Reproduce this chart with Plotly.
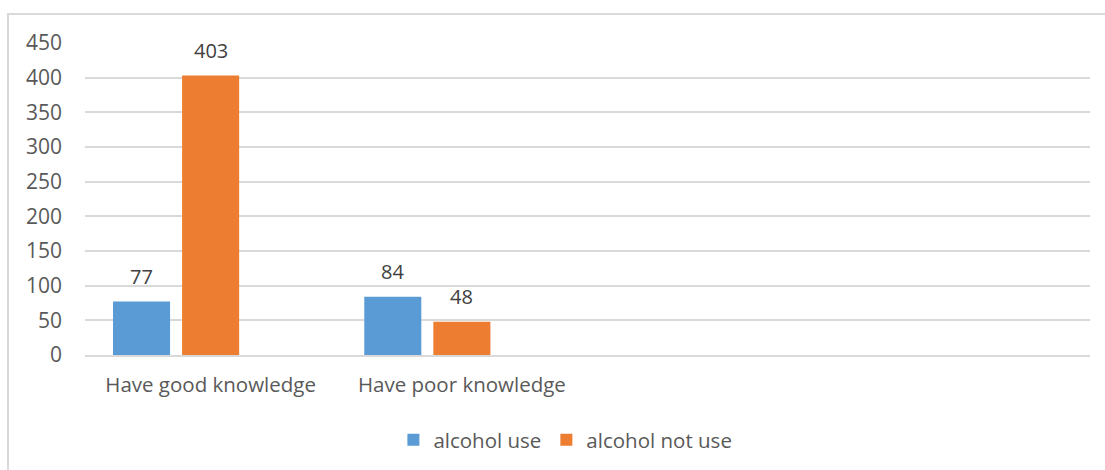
import plotly.graph_objects as go

categories = ["Have good knowledge", "Have poor knowledge"]
alcohol_use = [77, 84]
alcohol_not_use = [403, 48]
y_ticks = [0, 50, 100, 150, 200, 250, 300, 350, 400, 450]

FONT = "Open Sans"
fig = go.Figure()
fig.add_trace(go.Bar(
    x=categories, y=alcohol_use, name="alcohol use",
    marker=dict(color="#5B9BD5", line=dict(width=0)),
))
fig.add_trace(go.Bar(
    x=categories, y=alcohol_not_use, name="alcohol not use",
    marker=dict(color="#ED7D31", line=dict(width=0)),
))
# empty third series (as in the source workbook), keeps group layout
fig.add_trace(go.Bar(
    x=categories, y=[None, None], showlegend=False, hoverinfo="skip",
    marker=dict(color="rgba(0,0,0,0)"),
))

annotations = []
for series, shift in ((alcohol_use, -69), (alcohol_not_use, 0)):
    for cat, val in zip(categories, series):
        annotations.append(dict(
            x=cat, y=val, xref="x", yref="y", text=str(val), showarrow=False,
            xshift=shift, yshift=10, yanchor="bottom",
            font=dict(family=FONT, size=20, color="#404040")))

fig.update_layout(
    width=1105, height=470,
    margin=dict(l=85, r=15, t=43, b=115, autoexpand=False),
    paper_bgcolor="white", plot_bgcolor="white",
    barmode="group", bargap=0.175, bargroupgap=0.174,
    font=dict(family=FONT, size=20, color="#595959"),
    showlegend=True,
    annotations=annotations,
    legend=dict(orientation="h", x=0.478, xanchor="center", y=-0.208, yanchor="top",
                font=dict(family=FONT, size=20.5, color="#595959"),
                itemwidth=30, traceorder="normal"),
    xaxis=dict(type="category", range=[-0.5, 3.5], showgrid=False, automargin=False,
               showline=True, linecolor="#d9d9d9", linewidth=2,
               ticks="", ticklabelstandoff=10,
               tickfont=dict(family=FONT, size=20.5, color="#595959")),
    yaxis=dict(range=[0, 450], tickvals=y_ticks, showgrid=True, automargin=False,
               gridcolor="#d9d9d9", gridwidth=2, zeroline=False,
               showline=False, ticks="", ticklabelstandoff=22,
               tickfont=dict(family=FONT, size=21, color="#595959")),
    shapes=[dict(type="rect", xref="paper", yref="paper",
                 x0=(8 - 85) / 1005, x1=(1115 - 85) / 1005,
                 y0=(355 - 490) / 312, y1=(355 - 14) / 312,
                 line=dict(color="#d9d9d9", width=2), fillcolor="rgba(0,0,0,0)",
                 layer="below")],
)

fig.write_html("out.html")
